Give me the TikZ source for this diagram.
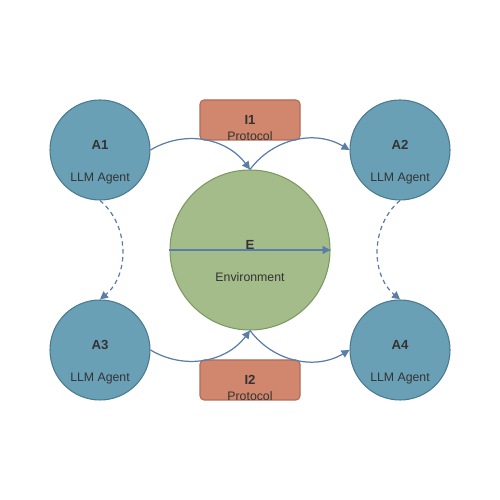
\documentclass[tikz,border=0pt]{standalone}
\usepackage{fontspec}
\setmainfont{Liberation Sans}
\usetikzlibrary{positioning,shapes,arrows.meta}
\definecolor{agentfill}{HTML}{6AA0B6}
\definecolor{agentdraw}{HTML}{4A7A8E}
\definecolor{envfill}{HTML}{A3BC8A}
\definecolor{envdraw}{HTML}{7A9A62}
\definecolor{protofill}{HTML}{D0876D}
\definecolor{protodraw}{HTML}{B06A55}
\definecolor{edgeblue}{HTML}{5A7DAA}
\definecolor{textgray}{HTML}{333333}
\tikzstyle{AgentNode}=[circle, draw=agentdraw, fill=agentfill, line width=0.6pt, minimum size=2cm, inner sep=0pt]
\tikzstyle{EnvNode}=[circle, draw=envdraw, fill=envfill, line width=0.6pt, minimum size=3.2cm, inner sep=0pt]
\tikzstyle{ProtoNode}=[rectangle, draw=protodraw, fill=protofill, line width=0.6pt, rounded corners=2.3pt, minimum width=2cm, minimum height=0.8cm, inner sep=0pt]
\tikzstyle{TitleText}=[font=\bfseries\fontsize{7.5}{9}\selectfont, text=textgray, inner sep=0pt]
\tikzstyle{SubText}=[font=\fontsize{7}{8}\selectfont, text=textgray, inner sep=0pt]
\tikzstyle{Link}=[draw=edgeblue, line width=0.7pt, >={Triangle[length=4.5pt,width=4.5pt]}]
\tikzstyle{PeerLink}=[Link, dash pattern=on 2.5pt off 2pt]

\begin{document}
\begin{tikzpicture}
    \useasboundingbox (0,0) rectangle (10,10);

    \node (a1) [AgentNode, label={[TitleText,yshift=0.1cm]center:A1}, label={[SubText,yshift=-0.57cm]center:LLM Agent}] at (2,7) {};
    \node (a2) [AgentNode, label={[TitleText,yshift=0.1cm]center:A2}, label={[SubText,yshift=-0.57cm]center:LLM Agent}] at (8,7) {};
    \node (a3) [AgentNode, label={[TitleText,yshift=0.1cm]center:A3}, label={[SubText,yshift=-0.57cm]center:LLM Agent}] at (2,3) {};
    \node (a4) [AgentNode, label={[TitleText,yshift=0.1cm]center:A4}, label={[SubText,yshift=-0.57cm]center:LLM Agent}] at (8,3) {};
    \node (env) [EnvNode, label={[TitleText,yshift=0.1cm]center:E}, label={[SubText,yshift=-0.55cm]center:Environment}] at (5,5) {};
    \node (i1) [ProtoNode, label={[TitleText]center:I1}, label={[SubText,yshift=-0.33cm]center:Protocol}] at (5,7.6) {};
    \node (i2) [ProtoNode, label={[TitleText]center:I2}, label={[SubText,yshift=-0.33cm]center:Protocol}] at (5,2.4) {};

    \draw [Link, ->] (a1.east) to[bend left=42] (env.north);
    \draw [Link, ->] (env.north) to[bend left=42] (a2.west);
    \draw [Link, ->] (a3.east) to[bend right=42] (env.south);
    \draw [Link, ->] (env.south) to[bend right=42] (a4.west);
    \draw [PeerLink, ->] (a1.south) to[bend left=50] (a3.north);
    \draw [PeerLink, ->] (a2.south) to[bend right=50] (a4.north);
    \draw [Link, ->] (env.west) -- (env.east);
  \end{tikzpicture}
\end{document}
